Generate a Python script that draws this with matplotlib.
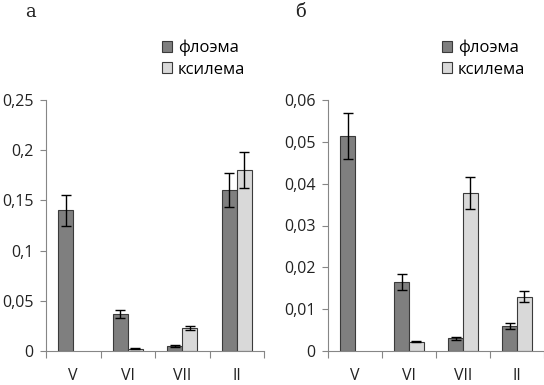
import numpy as np
import matplotlib.pyplot as plt
from matplotlib.patches import Patch

plt.rcParams['font.family'] = ['Open Sans', 'DejaVu Sans']

# данные
months = ['V', 'VI', 'VII', 'II']
series = ['флоэма', 'ксилема']

a_phloem = [0.140, 0.037, 0.005, 0.160]
a_phloem_err = [0.015, 0.004, 0.0007, 0.017]
a_xylem = [0.0, 0.002, 0.023, 0.180]
a_xylem_err = [0.0, 0.0005, 0.002, 0.018]

b_phloem = [0.0513, 0.0165, 0.0030, 0.0060]
b_phloem_err = [0.0055, 0.0019, 0.0003, 0.0007]
b_xylem = [0.0, 0.0022, 0.0377, 0.0130]
b_xylem_err = [0.0, 0.0001, 0.0038, 0.0013]

phloem_color = '#7f7f7f'
xylem_color = '#d9d9d9'
axis_color = '#868686'

W, H = 544, 385
fig = plt.figure(figsize=(W / 100, H / 100), dpi=100)


def draw_panel(rect, phl, phl_err, xyl, xyl_err, ymax, step, label, label_x, leg_x):
    ax = fig.add_axes([rect[0] / W, 1 - rect[1] / H - rect[3] / H, rect[2] / W, rect[3] / H])
    x = np.arange(len(months)) + 0.5
    w = 0.275
    err_kw = dict(ecolor='black', elinewidth=1, capsize=3.5, capthick=1)
    for off, vals, errs, col in [(-w / 2, phl, phl_err, phloem_color),
                                 (w / 2, xyl, xyl_err, xylem_color)]:
        vals = np.array(vals)
        errs = np.array(errs)
        m = vals > 0
        ax.bar(x[m] + off, vals[m], w, yerr=errs[m], color=col, edgecolor='#3a3a3a',
               linewidth=0.8, error_kw=err_kw, zorder=2)
    ax.set_xlim(0, len(months))
    ax.set_ylim(0, ymax)
    yt = np.arange(0, ymax + step / 2, step)
    ax.set_yticks(yt)
    ax.set_yticklabels(['0' if v == 0 else f'{v:.2f}'.rstrip('0').replace('.', ',') for v in yt])
    ax.set_xticks(np.arange(len(months) + 1))
    ax.set_xticklabels([])
    ax.set_xticks(x, minor=True)
    ax.set_xticklabels(months, minor=True)
    ax.tick_params(axis='x', which='major', length=5, color=axis_color, direction='out')
    ax.tick_params(axis='x', which='minor', length=0, pad=12, labelsize=11.5, labelcolor='#222222')
    ax.tick_params(axis='y', length=4, color=axis_color, labelsize=11.5, labelcolor='#222222', pad=5)
    for s in ['top', 'right']:
        ax.spines[s].set_visible(False)
    for s in ['left', 'bottom']:
        ax.spines[s].set_color(axis_color)
    fig.text(label_x / W, 1 - 12 / H, label, family='DejaVu Serif', fontsize=13,
             ha='center', va='center', color='#222222')
    handles = [Patch(facecolor=phloem_color, edgecolor='#3a3a3a', linewidth=0.8),
               Patch(facecolor=xylem_color, edgecolor='#3a3a3a', linewidth=0.8)]
    fig.legend(handles, series, loc='upper left', bbox_to_anchor=(leg_x / W, 1 - 40 / H),
               frameon=False, handlelength=0.6, handleheight=0.6, handletextpad=0.35,
               labelspacing=0.3, borderpad=0, borderaxespad=0, fontsize=12)
    return ax


draw_panel((46, 100, 218, 251), a_phloem, a_phloem_err, a_xylem, a_xylem_err,
           0.25, 0.05, 'а', 31, 162)
draw_panel((328, 100, 216, 251), b_phloem, b_phloem_err, b_xylem, b_xylem_err,
           0.06, 0.01, 'б', 300, 442)

fig.savefig('out.png', dpi=100)
